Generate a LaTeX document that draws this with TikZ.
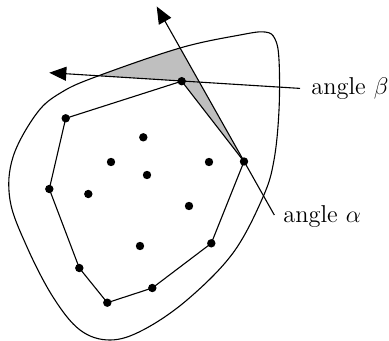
\documentclass[tikz,border=0pt]{standalone}
\usetikzlibrary{arrows.meta}
\begin{document}
\begin{tikzpicture}[x=0.5pt,y=-0.5pt,
  dot/.style={circle,fill=black,inner sep=0pt,minimum size=4.2pt},
  edge/.style={line width=0.55pt},
  ray/.style={line width=0.55pt,-{Triangle[length=8.5pt,width=7pt]}},
  lbl/.style={font=\fontsize{12.2}{14}\selectfont,anchor=base west,inner sep=0pt}]
\useasboundingbox (0,0) rectangle (389,341);
\def\blob{plot[smooth cycle,tension=0.6] coordinates {(98,76) (180,48) (240,35) (265,32) (275,39) (279,60) (279,110) (274,160) (263,197) (233,253) (187,300) (143,330) (110,340) (80,330) (53,297) (27,247) (10,200) (13,157) (37,113) (62,92)}}
% points
\coordinate (A) at (181.7,81.2);
\coordinate (H) at (244,161.5);
\coordinate (atip) at (156.7,6.5);
\coordinate (aend) at (274.3,215);
\coordinate (btip) at (49.3,72.7);
\coordinate (bend) at (300,88.4);
% gray region
\begin{scope}
  \clip \blob;
  \fill[gray!50] (A) -- (60,73.4) -- (60,0) -- (atip) -- (H) -- cycle;
\end{scope}
\draw[edge] \blob;
% hull
\node[dot] (nA) at (A) {};
\node[dot] (nB) at (65.7,118.3) {};
\node[dot] (nC) at (49.3,189) {};
\node[dot] (nD) at (79.3,268) {};
\node[dot] (nE) at (107.3,302.7) {};
\node[dot] (nF) at (152.3,288) {};
\node[dot] (nG) at (211.3,243.3) {};
\node[dot] (nH) at (H) {};
% interior
\node[dot] (p1) at (143.3,137.3) {};
\node[dot] (p2) at (111,162) {};
\node[dot] (p3) at (147,175) {};
\node[dot] (p4) at (209,162) {};
\node[dot] (p5) at (88.3,194) {};
\node[dot] (p6) at (189,206) {};
\node[dot] (p7) at (140,246) {};
\draw[edge] (nA.center) -- (nB.center) -- (nC.center) -- (nD.center) -- (nE.center) -- (nF.center) -- (nG.center) -- (nH.center) -- cycle;
% rays
\draw[ray] (aend) -- (atip);
\draw[ray] (bend) -- (btip);
% labels
\node[lbl] (lb) at (311,94.3) {angle $\beta$};
\node[lbl] (la) at (283,222.7) {angle $\alpha$};
\end{tikzpicture}
\end{document}
